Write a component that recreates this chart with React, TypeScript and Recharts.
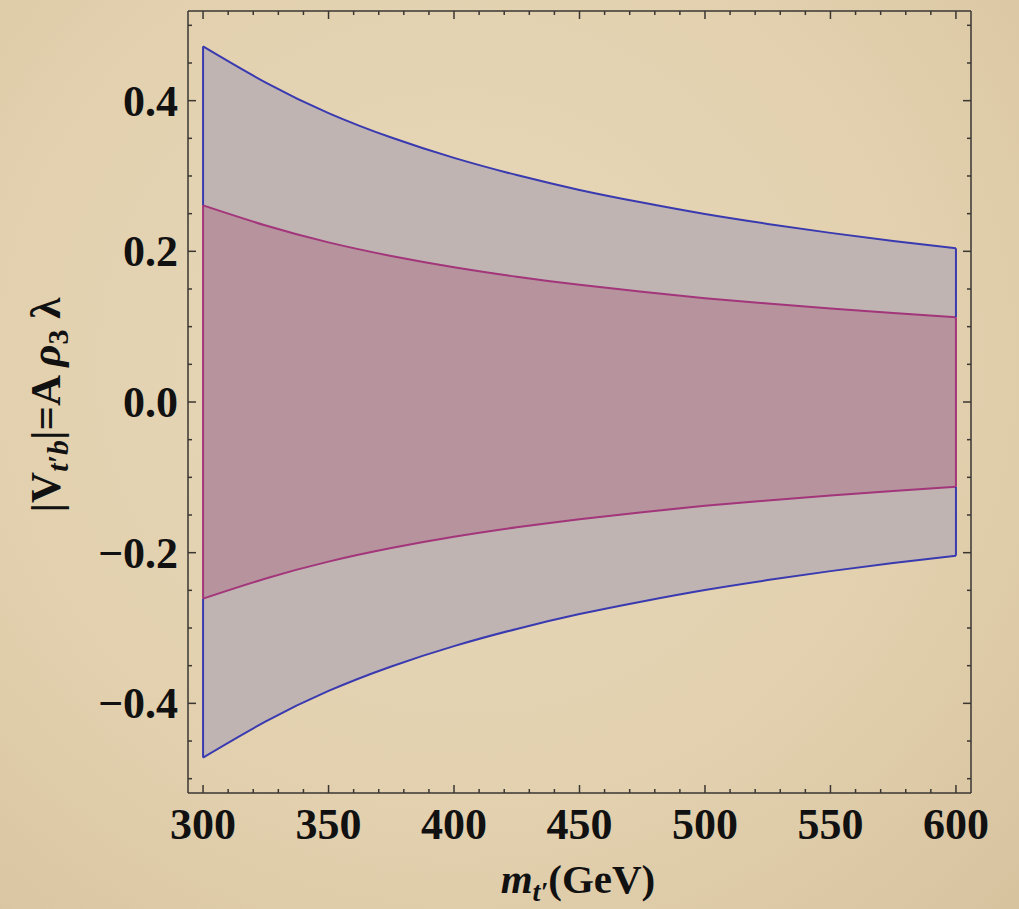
import { ComposedChart, Area, Line, XAxis, YAxis, ReferenceLine } from 'recharts'

// m_t' in GeV, and the upper edge of each band (the lower edge is the mirror image)
const masses = [300, 325, 350, 375, 400, 425, 450, 475, 500, 525, 550, 575, 600]
const blueBound = [0.472, 0.424, 0.3835, 0.351, 0.324, 0.3012, 0.2815, 0.2647, 0.2495, 0.2364, 0.2245, 0.2138, 0.204]
const pinkBound = [0.261, 0.2343, 0.2119, 0.1939, 0.179, 0.1664, 0.1555, 0.1462, 0.1378, 0.1306, 0.124, 0.1181, 0.1125]

const xLabels = [300, 350, 400, 450, 500, 550, 600]
const yLabels = [-0.4, -0.2, 0, 0.2, 0.4]
const xTicks = Array.from({ length: 31 }, (_, i) => 300 + 10 * i)
const yTicks = Array.from({ length: 21 }, (_, i) => Math.round((-0.5 + 0.05 * i) * 100) / 100)

const FRAME = '#3a3632'
const BLUE = '#3a3ab0'
const PINK = '#a3357a'
const FONT = '"Liberation Serif", "Times New Roman", serif'

const data = masses.map((m, i) => ({
  m,
  blue: [-blueBound[i], blueBound[i]],
  pink: [-pinkBound[i], pinkBound[i]],
}))

const isMajorY = (v: number) => yLabels.some((l) => Math.abs(l - v) < 1e-6)
const fmtY = (v: number) => (v < -1e-6 ? '\u2212' : '') + Math.abs(v).toFixed(1)

function BottomTick({ x, y, payload }: any) {
  const major = xLabels.includes(payload.value)
  return (
    <g>
      <line x1={x} x2={x} y1={y} y2={y - (major ? 8 : 4)} stroke={FRAME} strokeWidth={1.5} />
      {major && (
        <text x={x} y={y + 46} textAnchor="middle" fontFamily={FONT} fontWeight="bold" fontSize={44} fill="#111">
          {payload.value}
        </text>
      )}
    </g>
  )
}

function TopTick({ x, y, payload }: any) {
  const major = xLabels.includes(payload.value)
  return <line x1={x} x2={x} y1={y} y2={y + (major ? 8 : 4)} stroke={FRAME} strokeWidth={1.5} />
}

function LeftTick({ x, y, payload }: any) {
  const major = isMajorY(payload.value)
  return (
    <g>
      <line x1={x} x2={x + (major ? 8 : 4)} y1={y} y2={y} stroke={FRAME} strokeWidth={1.5} />
      {major && (
        <text x={x - 10} y={y + 15} textAnchor="end" fontFamily={FONT} fontWeight="bold" fontSize={44} fill="#111">
          {fmtY(payload.value)}
        </text>
      )}
    </g>
  )
}

function RightTick({ x, y, payload }: any) {
  const major = isMajorY(payload.value)
  return <line x1={x} x2={x - (major ? 8 : 4)} y1={y} y2={y} stroke={FRAME} strokeWidth={1.5} />
}

export default function App() {
  const ends = [0, masses.length - 1]
  return (
    <div
      style={{
        position: 'absolute',
        left: 0,
        top: 0,
        width: 1019,
        height: 909,
        background: 'radial-gradient(ellipse at 45% 40%, #e8d9ba 0%, #e2d0ae 60%, #d8c39f 100%)',
      }}
    >
      <ComposedChart width={1019} height={909} data={data} margin={{ top: 10, right: 47, bottom: 56, left: 108 }}>
        <XAxis
          dataKey="m"
          type="number"
          domain={[294, 606]}
          allowDataOverflow
          ticks={xTicks}
          interval={0}
          tickSize={0}
          tickMargin={0}
          tickLine={false}
          axisLine={{ stroke: FRAME, strokeWidth: 1.5 }}
          tick={<BottomTick />}
          height={60}
        />
        <XAxis
          xAxisId="top"
          orientation="top"
          dataKey="m"
          type="number"
          domain={[294, 606]}
          allowDataOverflow
          ticks={xTicks}
          interval={0}
          tickSize={0}
          tickMargin={0}
          tickLine={false}
          axisLine={{ stroke: FRAME, strokeWidth: 1.5 }}
          tick={<TopTick />}
          height={1}
        />
        <YAxis
          type="number"
          domain={[-0.519, 0.519]}
          allowDataOverflow
          ticks={yTicks}
          interval={0}
          tickSize={0}
          tickMargin={0}
          tickLine={false}
          axisLine={{ stroke: FRAME, strokeWidth: 1.5 }}
          tick={<LeftTick />}
          width={80}
        />
        <YAxis
          yAxisId="right"
          orientation="right"
          type="number"
          domain={[-0.519, 0.519]}
          allowDataOverflow
          ticks={yTicks}
          interval={0}
          tickSize={0}
          tickMargin={0}
          tickLine={false}
          axisLine={{ stroke: FRAME, strokeWidth: 1.5 }}
          tick={<RightTick />}
          width={1}
        />
        <Area
          dataKey="blue"
          type="natural"
          fill="#c0b4b3"
          fillOpacity={1}
          stroke={BLUE}
          strokeWidth={2}
          isAnimationActive={false}
          dot={false}
          activeDot={false}
        />
        <Area
          dataKey="pink"
          type="natural"
          fill="#b6939d"
          fillOpacity={1}
          stroke={PINK}
          strokeWidth={2}
          isAnimationActive={false}
          dot={false}
          activeDot={false}
        />
        <Line
          xAxisId="top"
          yAxisId="right"
          dataKey={(d: any) => d.blue[1]}
          stroke="none"
          dot={false}
          activeDot={false}
          isAnimationActive={false}
        />
        {ends.map((i) => (
          <ReferenceLine
            key={'bu' + i}
            segment={[
              { x: masses[i], y: pinkBound[i] },
              { x: masses[i], y: blueBound[i] },
            ]}
            stroke={BLUE}
            strokeWidth={2}
          />
        ))}
        {ends.map((i) => (
          <ReferenceLine
            key={'bl' + i}
            segment={[
              { x: masses[i], y: -blueBound[i] },
              { x: masses[i], y: -pinkBound[i] },
            ]}
            stroke={BLUE}
            strokeWidth={2}
          />
        ))}
        {ends.map((i) => (
          <ReferenceLine
            key={'p' + i}
            segment={[
              { x: masses[i], y: -pinkBound[i] },
              { x: masses[i], y: pinkBound[i] },
            ]}
            stroke={PINK}
            strokeWidth={2}
          />
        ))}
        <text
          x={0}
          y={0}
          transform="translate(60,405) rotate(-90)"
          textAnchor="middle"
          fontFamily={FONT}
          fontWeight="bold"
          fontSize={43}
          fill="#111"
        >
          <tspan>|V</tspan>
          <tspan fontStyle="italic" fontSize={30} dy={8}>t{'\u2032'}b</tspan>
          <tspan dy={-8}>|=A </tspan>
          <tspan fontStyle="italic">{'\u03c1'}</tspan>
          <tspan fontSize={30} dy={8}>3</tspan>
          <tspan dy={-8}> {'\u03bb'}</tspan>
        </text>
        <text x={578} y={893} textAnchor="middle" fontFamily={FONT} fontWeight="bold" fontSize={41} fill="#111">
          <tspan fontStyle="italic">m</tspan>
          <tspan fontStyle="italic" fontSize={28} dy={8}>t{'\u2032'}</tspan>
          <tspan dy={-8}>(GeV)</tspan>
        </text>
      </ComposedChart>
    </div>
  )
}
